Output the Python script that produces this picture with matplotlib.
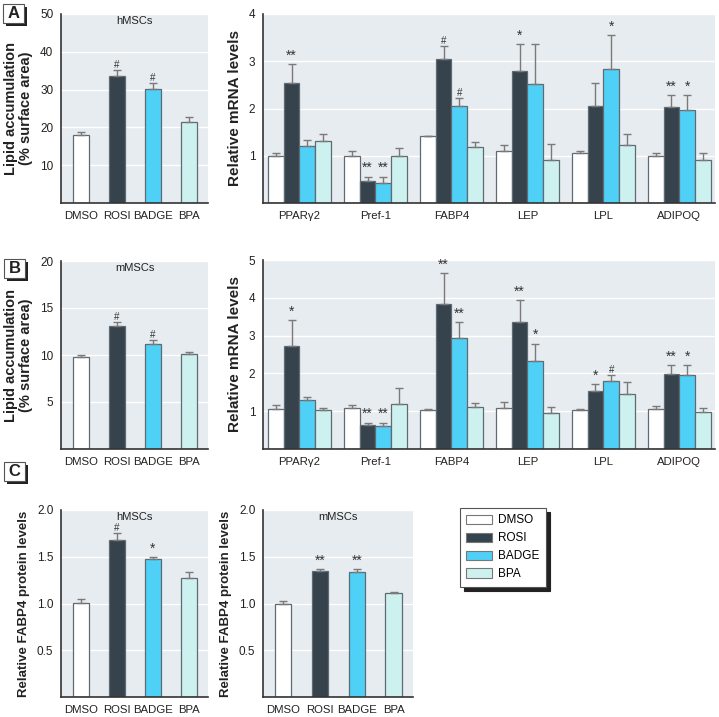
import numpy as np
import matplotlib
matplotlib.use('Agg')
import matplotlib.pyplot as plt
from matplotlib.patches import Patch, Rectangle

plt.rcParams['font.family'] = ['Liberation Sans', 'DejaVu Sans']

treatments = ['DMSO', 'ROSI', 'BADGE', 'BPA']
genes = ['PPAR\u03b32', 'Pref-1', 'FABP4', 'LEP', 'LPL', 'ADIPOQ']
colors = ['#ffffff', '#36434c', '#4fd0f6', '#cdf1ef']

# A: hMSCs lipid accumulation
lipid_h = [18.0, 33.6, 30.1, 21.3]
lipid_h_err = [0.8, 1.6, 1.6, 1.4]
lipid_h_marks = ['', '#', '#', '']

# A: hMSCs mRNA (rows = treatments, columns = genes)
mrna_h = [[1.00, 1.00, 1.41, 1.10, 1.05, 1.00],
          [2.55, 0.46, 3.04, 2.79, 2.06, 2.03],
          [1.20, 0.43, 2.06, 2.51, 2.83, 1.96],
          [1.31, 1.00, 1.18, 0.91, 1.22, 0.90]]
mrna_h_err = [[0.06, 0.10, 0.00, 0.12, 0.05, 0.05],
              [0.39, 0.10, 0.28, 0.57, 0.47, 0.25],
              [0.13, 0.13, 0.17, 0.86, 0.72, 0.32],
              [0.16, 0.16, 0.12, 0.33, 0.23, 0.15]]
mrna_h_marks = [['', '', '', '', '', ''],
                ['**', '**', '#', '*', '', '**'],
                ['', '**', '#', '', '*', '*'],
                ['', '', '', '', '', '']]

# B: mMSCs lipid accumulation
lipid_m = [9.75, 13.07, 11.17, 10.07]
lipid_m_err = [0.21, 0.43, 0.43, 0.23]
lipid_m_marks = ['', '#', '#', '']

# B: mMSCs mRNA
mrna_m = [[1.06, 1.08, 1.03, 1.08, 1.03, 1.06],
          [2.73, 0.63, 3.84, 3.36, 1.54, 1.98],
          [1.29, 0.61, 2.93, 2.33, 1.80, 1.95],
          [1.03, 1.19, 1.11, 0.96, 1.46, 0.98]]
mrna_m_err = [[0.11, 0.09, 0.03, 0.16, 0.04, 0.09],
              [0.69, 0.07, 0.81, 0.58, 0.18, 0.25],
              [0.09, 0.09, 0.43, 0.46, 0.15, 0.27],
              [0.05, 0.42, 0.10, 0.15, 0.30, 0.10]]
mrna_m_marks = [['', '', '', '', '', ''],
                ['*', '**', '**', '**', '*', '**'],
                ['', '**', '**', '*', '#', '*'],
                ['', '', '', '', '', '']]

# C: FABP4 protein
prot_h = [1.007, 1.675, 1.48, 1.27]
prot_h_err = [0.045, 0.08, 0.02, 0.07]
prot_h_marks = ['', '#', '*', '']
prot_m = [1.00, 1.345, 1.34, 1.11]
prot_m_err = [0.03, 0.02, 0.03, 0.015]
prot_m_marks = ['', '**', '**', '']

BG = '#e7ecf0'
EDGE = '#5f6a72'
W, H = 719, 717
fig = plt.figure(figsize=(7.19, 7.17), dpi=100)


def make_axes(x0, x1, y0, y1):
    return fig.add_axes([x0 / W, (H - y1) / H, (x1 - x0) / W, (y1 - y0) / H])


def style(ax, ylim, yticks, ylabel, fmt='{:g}', lsize=10.5):
    ax.set_facecolor(BG)
    ax.set_ylim(*ylim)
    ax.set_yticks(yticks)
    ax.set_yticklabels([fmt.format(t) for t in yticks], fontsize=8.5)
    ax.yaxis.grid(True, color='white', linewidth=1)
    ax.set_axisbelow(True)
    for s in ['top', 'right']:
        ax.spines[s].set_visible(False)
    for s in ['left', 'bottom']:
        ax.spines[s].set_color('#333333')
        ax.spines[s].set_linewidth(1.2)
    ax.tick_params(length=0, pad=5.5, colors='#222222')
    ax.tick_params(axis='x', labelsize=8.2, pad=6)
    ax.set_ylabel(ylabel, fontsize=lsize, fontweight='bold', labelpad=5,
                  color='#222222', linespacing=1.1)


def mark(ax, x, top, text):
    if text:
        fs = 7 if text == '#' else 10
        off = 0 if text == '#' else 1
        ax.annotate(text, (x, top), xytext=(0, off), textcoords='offset points',
                    ha='center', va='bottom', fontsize=fs, color='#333333')


def simple_panel(ax, vals, errs, marks, title):
    x = np.arange(len(treatments))
    ax.bar(x, vals, width=0.44, color=colors, edgecolor=EDGE, linewidth=0.9,
           yerr=[np.zeros(len(errs)), errs],
           error_kw=dict(ecolor='#7a7a7a', elinewidth=1, capsize=3, capthick=1))
    for i in range(len(vals)):
        mark(ax, x[i], vals[i] + errs[i], marks[i])
    ax.set_xticks(x)
    ax.set_xticklabels(treatments)
    ax.set_xlim(-0.55, 3.53)
    ax.text(0.5, 0.99, title, transform=ax.transAxes, ha='center', va='top',
            fontsize=8, color='#222222')


def gene_panel(ax, vals, errs, marks):
    x = np.arange(len(genes))
    bw = 0.207
    for t in range(len(treatments)):
        xs = x + (t - 1.5) * bw
        ax.bar(xs, vals[t], width=bw, color=colors[t], edgecolor=EDGE, linewidth=0.9,
               yerr=[np.zeros(len(genes)), errs[t]],
               error_kw=dict(ecolor='#7a7a7a', elinewidth=1, capsize=3, capthick=1))
        for g in range(len(genes)):
            mark(ax, xs[g], vals[t][g] + errs[t][g], marks[t][g])
    ax.set_xticks(x)
    ax.set_xticklabels(genes)
    ax.set_xlim(-0.48, 5.47)


# Panel A
ax = make_axes(61, 208, 14, 203)
simple_panel(ax, lipid_h, lipid_h_err, lipid_h_marks, 'hMSCs')
style(ax, (0, 50), [10, 20, 30, 40, 50], 'Lipid accumulation\n(% surface area)')

ax = make_axes(263, 715, 14, 203)
gene_panel(ax, mrna_h, mrna_h_err, mrna_h_marks)
style(ax, (0, 4), [1, 2, 3, 4], 'Relative mRNA levels', lsize=11)

# Panel B
ax = make_axes(61, 208, 261, 449)
simple_panel(ax, lipid_m, lipid_m_err, lipid_m_marks, 'mMSCs')
style(ax, (0, 20), [5, 10, 15, 20], 'Lipid accumulation\n(% surface area)')

ax = make_axes(263, 715, 260, 449)
gene_panel(ax, mrna_m, mrna_m_err, mrna_m_marks)
style(ax, (0, 5), [1, 2, 3, 4, 5], 'Relative mRNA levels', lsize=11)

# Panel C
ax = make_axes(61, 208, 510, 697)
simple_panel(ax, prot_h, prot_h_err, prot_h_marks, 'hMSCs')
style(ax, (0, 2), [0.5, 1.0, 1.5, 2.0], 'Relative FABP4 protein levels', '{:.1f}', 9.5)

ax = make_axes(263, 413, 510, 697)
simple_panel(ax, prot_m, prot_m_err, prot_m_marks, 'mMSCs')
style(ax, (0, 2), [0.5, 1.0, 1.5, 2.0], 'Relative FABP4 protein levels', '{:.1f}', 9.5)


# panel letters with shadow boxes
def letter(label, x0, y0, w=21, h=19):
    fig.patches.append(Rectangle(((x0 + 3) / W, (H - y0 - h - 3) / H), w / W, h / H,
                                 transform=fig.transFigure, facecolor='#222222',
                                 edgecolor='none', zorder=1))
    fig.patches.append(Rectangle((x0 / W, (H - y0 - h) / H), w / W, h / H,
                                 transform=fig.transFigure, facecolor='white',
                                 edgecolor='#555555', linewidth=0.8, zorder=2))
    fig.text((x0 + w / 2) / W, (H - y0 - h / 2) / H, label, ha='center', va='center',
             fontsize=12, fontweight='bold', color='#222222', zorder=3)


letter('A', 3, 4)
letter('B', 4, 259)
letter('C', 4, 462)

# legend
handles = [Patch(facecolor=c, edgecolor='#777777', linewidth=0.8) for c in colors]
leg = fig.legend(handles, treatments, loc='upper left',
                 bbox_to_anchor=(460 / W, (H - 508) / H), fontsize=8.5,
                 frameon=True, fancybox=False,
                 shadow={'color': '#222222', 'alpha': 1, 'ox': 3, 'oy': -3},
                 handlelength=2.2, handleheight=0.85, labelspacing=0.5,
                 borderpad=0.55, handletextpad=0.5, borderaxespad=0)
leg.get_frame().set_edgecolor('#555555')
leg.get_frame().set_linewidth(0.8)

plt.savefig('out.png', dpi=100)
plt.close()
